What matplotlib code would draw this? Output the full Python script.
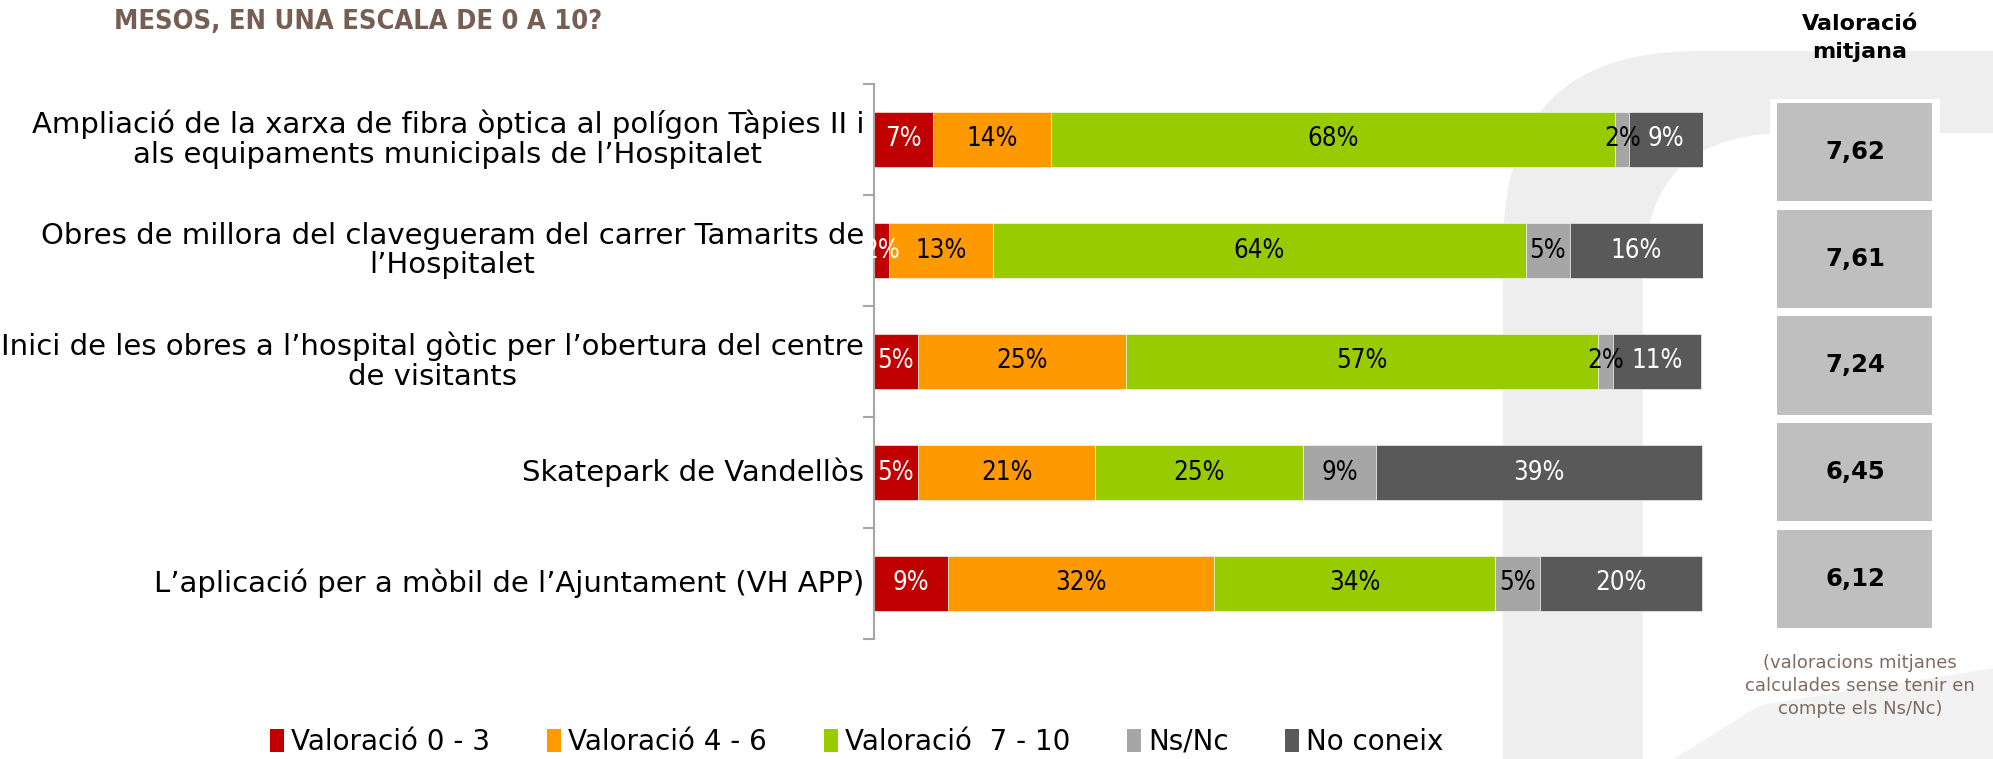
import matplotlib
matplotlib.use("Agg")
import matplotlib.pyplot as plt
from matplotlib.patches import Rectangle, Patch, PathPatch, Polygon
from matplotlib.path import Path
from matplotlib import font_manager
import numpy as np

# ---------------- data ----------------
categories = [
    "Ampliació de la xarxa de fibra òptica al polígon Tàpies II i\nals equipaments municipals de l\u2019Hospitalet",
    "Obres de millora del clavegueram del carrer Tamarits de\nl\u2019Hospitalet",
    "Inici de les obres a l\u2019hospital gòtic per l\u2019obertura del centre\nde visitants",
    "Skatepark de Vandellòs",
    "L\u2019aplicació per a mòbil de l\u2019Ajuntament (VH APP)",
]
series_names = ["Valoració 0 - 3", "Valoració 4 - 6", "Valoració  7 - 10", "Ns/Nc", "No coneix"]
val_0_3   = [7.1, 1.8, 5.3, 5.3, 8.9]
val_4_6   = [14.3, 12.6, 25.1, 21.4, 32.1]
val_7_10  = [68.0, 64.2, 56.9, 25.0, 33.9]
val_nsnc  = [1.7, 5.3, 1.8, 8.9, 5.4]
val_nocon = [8.9, 16.1, 10.7, 39.3, 19.6]
mean_scores = ["7,62", "7,61", "7,24", "6,45", "6,12"]

title_text = "MESOS, EN UNA ESCALA DE 0 A 10?"
panel_title = "Valoració\nmitjana"
footnote = "(valoracions mitjanes\ncalculades sense tenir en\ncompte els Ns/Nc)"

colors = ["#c00000", "#ff9900", "#99cc00", "#a6a6a6", "#595959"]
label_colors = ["white", "black", "black", "black", "white"]

# condensed font if available
names = {f.name for f in font_manager.fontManager.ttflist}
cond_stretch = {}
narrow_family = ["DejaVu Sans"]
if "Liberation Sans Narrow" in names:
    narrow_family = ["Liberation Sans Narrow", "DejaVu Sans"]
else:
    cond_stretch = {"fontstretch": "condensed"}

W, H = 1993, 759
fig = plt.figure(figsize=(W / 100, H / 100), dpi=100)
fig.patch.set_facecolor("white")

def fx(x):
    return x / W

def fy(y):
    return 1 - y / H

# ---------------- background watermark ----------------
bg = fig.add_axes([0, 0, 1, 1], zorder=-10)
bg.set_xlim(0, W)
bg.set_ylim(H, 0)
bg.axis("off")
verts = [
    (1503, 760), (1503, 250),
    (1503, 120), (1560, 51), (1700, 51),
    (1995, 51), (1995, 133), (1790, 133),
    (1700, 133), (1643, 170), (1643, 280),
    (1643, 760), (1503, 760),
]
codes = [Path.MOVETO, Path.LINETO,
         Path.CURVE4, Path.CURVE4, Path.CURVE4,
         Path.LINETO, Path.LINETO, Path.LINETO,
         Path.CURVE4, Path.CURVE4, Path.CURVE4,
         Path.LINETO, Path.CLOSEPOLY]
bg.add_patch(PathPatch(Path(verts, codes), facecolor="#eeeeee", edgecolor="none"))
bg.add_patch(Polygon([(1672, 760), (1760, 705), (1995, 668), (1995, 760)],
                     closed=True, facecolor="#f2f2f2", edgecolor="none"))

# ---------------- main axes ----------------
ax = fig.add_axes([fx(874), fy(639), fx(1703) - fx(874), fy(84) - fy(639)])
ax.patch.set_alpha(0)
series = [val_0_3, val_4_6, val_7_10, val_nsnc, val_nocon]
ypos = np.arange(len(categories))
left = np.zeros(len(categories))
for vals, col, lc in zip(series, colors, label_colors):
    vals = np.array(vals)
    ax.barh(ypos, vals, left=left, height=0.5, color=col, edgecolor="white",
            linewidth=0.4, zorder=2)
    for y, l, v in zip(ypos, left, vals):
        ax.text(l + v / 2, y, f"{int(round(v))}%", ha="center", va="center",
                color=lc, fontsize=18.5, family=narrow_family, zorder=3, **cond_stretch)
    left = left + vals

ax.set_xlim(0, 100)
ax.set_ylim(len(categories) - 0.5, -0.5)
for s in ["top", "right", "bottom"]:
    ax.spines[s].set_visible(False)
ax.spines["left"].set_color("#a6a6a6")
ax.spines["left"].set_linewidth(1.5)
ax.set_xticks([])
ax.set_yticks(np.arange(-0.5, len(categories), 1.0))
ax.set_yticklabels([])
ax.tick_params(axis="y", length=8, width=1.5, color="#a6a6a6", direction="out")
for y, cat in zip(ypos, categories):
    ax.text(-1.2, y, cat, ha="right", va="center", multialignment="center",
            fontsize=21, family=["DejaVu Sans"], color="black",
            linespacing=1.08)

# ---------------- title ----------------
fig.text(fx(114), fy(22), title_text, ha="left", va="center", fontsize=19.5,
         fontweight="bold", color="#765f52", family=narrow_family, **cond_stretch)

# ---------------- legend ----------------
handles = [Patch(facecolor=c, edgecolor="none") for c in colors]
fig.legend(handles, series_names, loc="center", bbox_to_anchor=(fx(857), fy(742)),
           ncol=5, frameon=False, handlelength=0.5, handleheight=0.9,
           handletextpad=0.25, columnspacing=2.05,
           prop={"family": ["DejaVu Sans"], "size": 20})

# ---------------- right panel ----------------
pax = fig.add_axes([fx(1770), fy(632), fx(1940) - fx(1770), fy(99) - fy(632)])
pax.set_xlim(0, 1)
pax.set_ylim(len(mean_scores), 0)
pax.axis("off")
pax.add_patch(Rectangle((0, 0), 1, len(mean_scores), facecolor="white", edgecolor="none", zorder=0))
for i, v in enumerate(mean_scores):
    pax.add_patch(Rectangle((0.041, i + 0.04), 0.912, 0.92, facecolor="#bfbfbf",
                            edgecolor="none", zorder=1))
    pax.text(0.5, i + 0.5, v, ha="center", va="center", fontsize=17.5,
             fontweight="bold", color="black", family=["DejaVu Sans"], zorder=2)

fig.text(fx(1860), fy(38), panel_title, ha="center", va="center", fontsize=16,
         fontweight="bold", color="black", linespacing=1.45)
fig.text(fx(1860), fy(686), footnote, ha="center", va="center", fontsize=13,
         color="#7f6b60", linespacing=1.35)

fig.savefig("out.png", dpi=100, facecolor="white")
